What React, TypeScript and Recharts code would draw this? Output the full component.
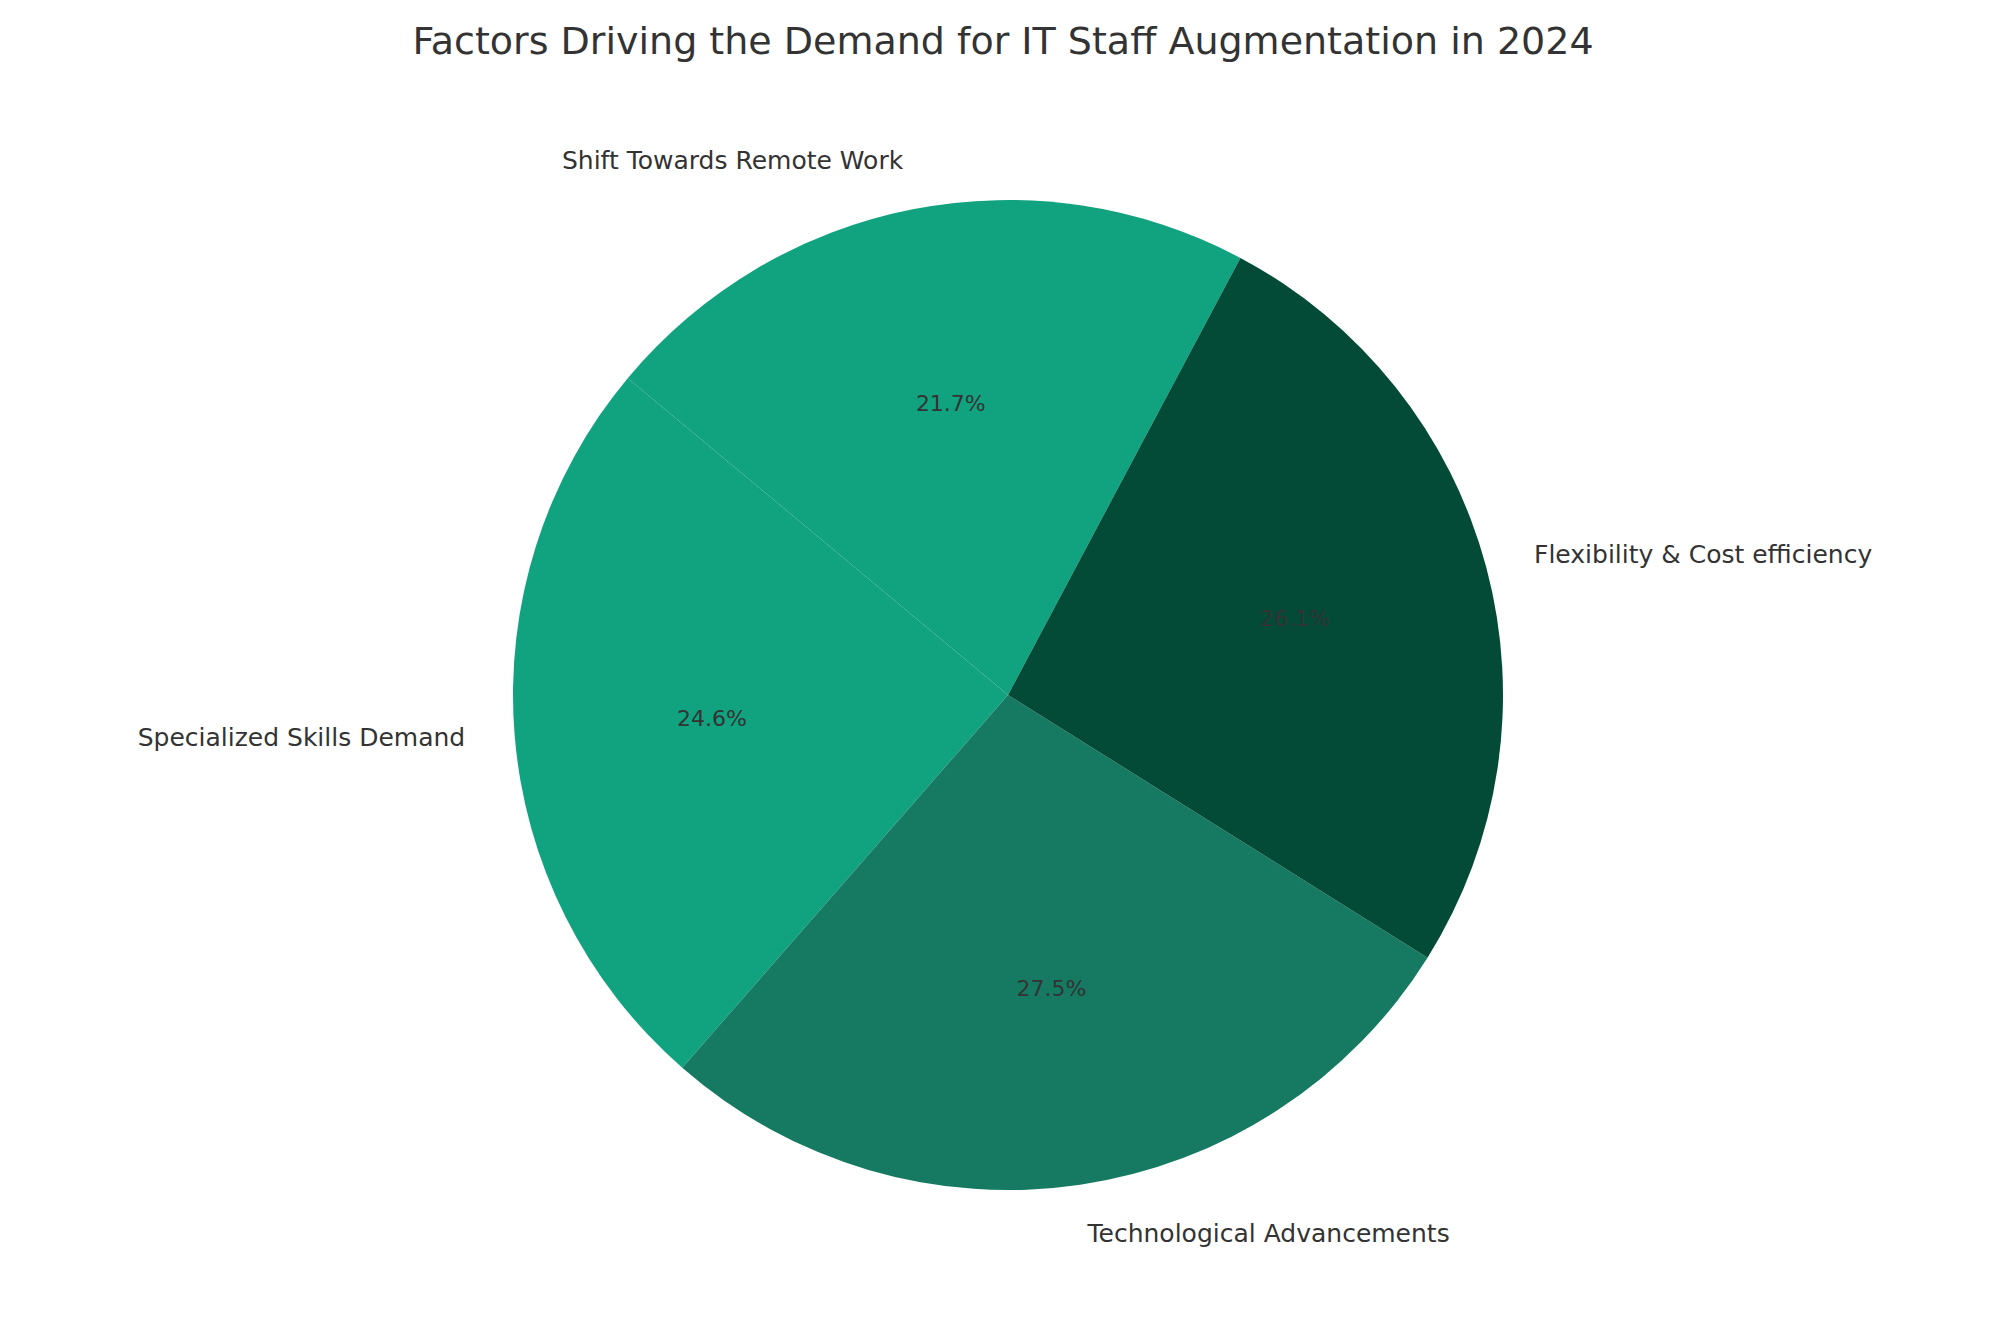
import React from 'react';
import { PieChart, Pie, Cell } from 'recharts';

const categories = ['Shift Towards Remote Work', 'Specialized Skills Demand', 'Technological Advancements', 'Flexibility & Cost efficiency'];
const shares = [21.7, 24.6, 27.5, 26.1];
const colors = ['#11a37f', '#11a37f', '#167a63', '#034a37'];

const data = categories.map((name, i) => ({ name, value: shares[i] }));

const RAD = Math.PI / 180;
const FONT = 'DejaVu Sans, sans-serif';

const renderLabel = (props: any) => {
  const { cx, cy, midAngle, outerRadius, index, percent } = props;
  const cos = Math.cos(-midAngle * RAD);
  const sin = Math.sin(-midAngle * RAD);
  const lx = cx + outerRadius * 1.1 * cos;
  const ly = cy + outerRadius * 1.1 * sin;
  const px = cx + outerRadius * 0.6 * cos;
  const py = cy + outerRadius * 0.6 * sin;
  return (
    <g>
      <text x={lx} y={ly} textAnchor={cos >= 0 ? 'start' : 'end'} dominantBaseline="central"
        fill="#333333" fontSize={25} fontFamily={FONT}>
        {categories[index]}
      </text>
      <text x={px} y={py} textAnchor="middle" dominantBaseline="central"
        fill="#333333" fontSize={22} fontFamily={FONT}>
        {(percent * 100).toFixed(1)}%
      </text>
    </g>
  );
};

export default function App() {
  return (
    <div style={{ position: 'absolute', left: 0, top: 0, width: 1993, height: 1322, background: '#fff' }}>
      <PieChart width={1993} height={1322}>
        <text x={1003} y={41} textAnchor="middle" dominantBaseline="central" fill="#333333" fontSize={38} fontFamily={FONT}>
          Factors Driving the Demand for IT Staff Augmentation in 2024
        </text>
        <Pie data={data} dataKey="value" cx={1003} cy={690} outerRadius={495}
          startAngle={62} endAngle={422} stroke="none" label={renderLabel} labelLine={false}
          isAnimationActive={false}>
          {data.map((d, i) => <Cell key={d.name} fill={colors[i]} />)}
        </Pie>
      </PieChart>
    </div>
  );
}
